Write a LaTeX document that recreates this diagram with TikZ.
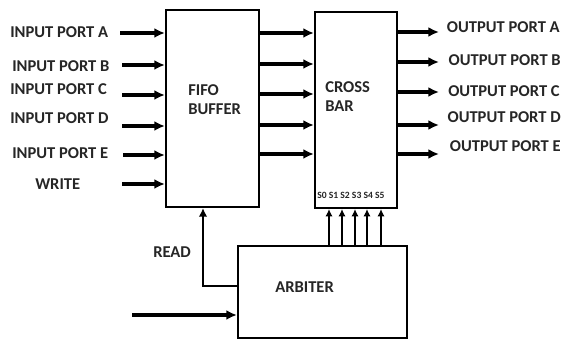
\documentclass[tikz,border=0pt]{standalone}
\usepackage{fontspec}
\setmainfont{Carlito}
\usetikzlibrary{arrows.meta,fit}
\begin{document}
\begin{tikzpicture}[x=0.75pt,y=-0.75pt,
  box/.style={draw=black,line width=1.6pt,inner sep=0pt},
  arr/.style={line width=2.5pt,-{Latex[length=8pt,width=7.5pt]}},
  sel/.style={line width=2pt,-{Latex[length=5.5pt,width=5.5pt]}},
  lbl/.style={font=\fontsize{12.4}{14.5}\bfseries\selectfont,inner sep=0pt,text=black!85},
  ]
\useasboundingbox[fill=white] (0,0) rectangle (562,341);
% boxes
\node[box,fit={(166,10) (259,207)}] (fifo) {};
\node[box,fit={(315,12) (397,208)}] (xbar) {};
\node[box,fit={(238,246) (407,338)}] (arb) {};
% box texts
\node[lbl,anchor=north west,align=left] (fifot) at (188,84) {FIFO\\BUFFER};
\node[lbl,anchor=north west,align=left] (xbart) at (325,81) {CROSS\\BAR};
\node[lbl,anchor=west] (arbt) at (275,287) {ARBITER};
\node[font=\fontsize{7.2}{8}\bfseries\selectfont,inner sep=0pt,anchor=west,text=black!85] (stxt) at (317,195) {S0 S1 S2 S3 S4 S5};
% input labels
\node[lbl,anchor=west] (inA) at (10,32) {INPUT PORT A};
\node[lbl,anchor=west] (inB) at (12,66) {INPUT PORT B};
\node[lbl,anchor=west] (inC) at (10,89) {INPUT PORT C};
\node[lbl,anchor=west] (inD) at (10,118) {INPUT PORT D};
\node[lbl,anchor=west] (inE) at (12,153) {INPUT PORT E};
\node[lbl,anchor=west] (wr) at (35,184) {WRITE};
% input arrows
\coordinate (iA) at (120,33);
\coordinate (iB) at (122,65);
\coordinate (iC) at (122,95);
\coordinate (iD) at (122,126);
\coordinate (iE) at (123,155);
\coordinate (iW) at (122,184);
\foreach \c in {iA,iB,iC,iD,iE,iW}
  \draw[arr] (\c) -- (\c -| fifo.west);
% fifo to crossbar
\foreach \y [count=\i] in {33,64,94,125,154}{
  \coordinate (f\i) at (259,\y);
  \draw[arr] (f\i) -- (f\i -| xbar.west);
}
% outputs
\foreach \y [count=\i] in {32,62,92,125,154}{
  \coordinate (o\i) at (397,\y);
  \coordinate (oe\i) at (439,\y);
  \draw[arr] (o\i) -- (oe\i);
}
\node[lbl,anchor=east] (outA) at (560,27) {OUTPUT PORT A};
\node[lbl,anchor=east] (outB) at (561,60) {OUTPUT PORT B};
\node[lbl,anchor=east] (outC) at (560,91) {OUTPUT PORT C};
\node[lbl,anchor=east] (outD) at (561,117) {OUTPUT PORT D};
\node[lbl,anchor=east] (outE) at (561,146) {OUTPUT PORT E};
% select arrows
\foreach \x [count=\i] in {329,342,355,367,381}{
  \coordinate (s\i) at (\x,246);
  \draw[sel] (s\i) -- (s\i |- xbar.south);
}
% read
\coordinate (rd) at (238,286);
\coordinate (rdc) at (203,286);
\draw[line width=2pt,-{Latex[length=6.5pt,width=6.5pt]}] (rd) -- (rdc) -- (rdc |- fifo.south);
\node[lbl,anchor=west] (readt) at (153,252) {READ};
% arbiter input
\coordinate (ain) at (132,315);
\draw[arr] (ain) -- (ain -| arb.west);
\end{tikzpicture}
\end{document}
